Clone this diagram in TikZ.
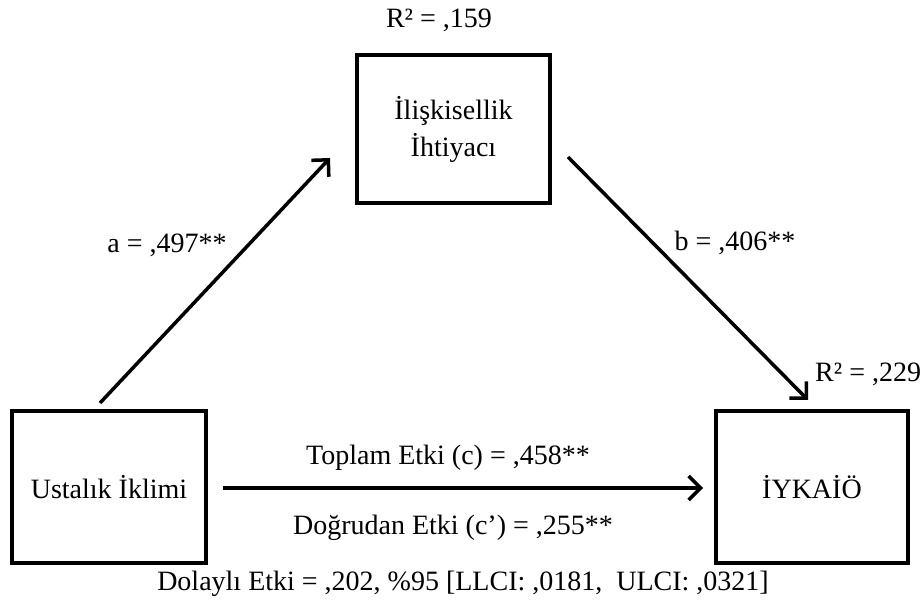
\documentclass[tikz,border=0pt]{standalone}
\usepackage{fontspec}
\setmainfont{Liberation Serif}
\usetikzlibrary{arrows.meta}
\begin{document}
\begin{tikzpicture}[x=1pt,y=-1pt,
  varbox/.style={draw,line width=3.5pt,minimum width=#1,inner sep=0pt,align=center},
  lbl/.style={font=\fontsize{28}{37}\selectfont,inner sep=0pt},
  path/.style={line width=3.5pt,-{Straight Barb[length=12pt,width=24pt,line width=3.5pt]}}]
\useasboundingbox (0,0) rectangle (922,604);
% variable boxes
\node[varbox=193pt,minimum height=148pt,lbl] (M) at (453.5,129) {İlişkisellik\\İhtiyacı};
\node[varbox=194pt,minimum height=152pt,lbl] (X) at (109,487) {Ustalık İklimi};
\node[varbox=192pt,minimum height=152pt,lbl] (Y) at (812,487) {İYKAİÖ};
% explained variance
\node[lbl] (r1) at (439,20) {R² = ,159};
\node[lbl,anchor=west] (r2) at (815,374) {R² = ,229};
% arrow end points
\coordinate (aS) at (100,403);
\coordinate (aE) at (330,158);
\coordinate (bS) at (568,157);
\coordinate (bE) at (808,400);
\coordinate (cS) at (223,488);
\coordinate (cE) at (703,488);
\draw[path] (aS) -- (aE);
\draw[path] (bS) -- (bE);
\draw[path] (cS) -- (cE);
% path coefficients
\node[lbl] (la) at (167,245) {a = ,497**};
\node[lbl] (lb) at (735,243) {b = ,406**};
\node[lbl] (lc) at (448,458) {Toplam Etki (c) = ,458**};
\node[lbl] (ld) at (453,528) {Doğrudan Etki (c’) = ,255**};
\node[lbl] (le) at (463,584) {Dolaylı Etki = ,202, \%95 [LLCI: ,0181, \ ULCI: ,0321]};
\end{tikzpicture}
\end{document}
